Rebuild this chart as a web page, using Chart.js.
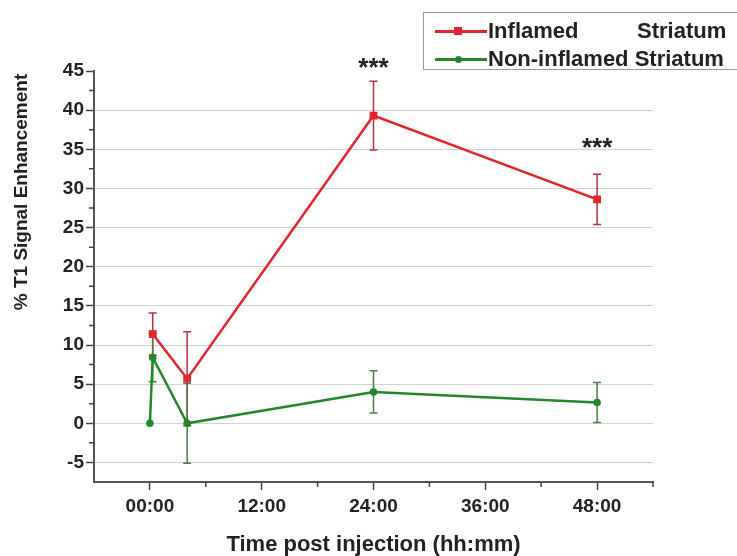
<!DOCTYPE html>
<html>
<head>
<meta charset="utf-8">
<title>T1 Signal Enhancement</title>
<script src="https://cdn.jsdelivr.net/npm/chart.js@4.4.1/dist/chart.umd.min.js"></script>
<style>
    html, body { margin: 0; padding: 0; background: #fff; overflow: hidden; }
    #wrap { position: relative; width: 737px; height: 556px; overflow: hidden; }
    #legend {
        position: absolute; left: 423px; top: 12px; width: 340px; height: 56px;
        border: 1px solid #9a9a9a; background: #fff;
        font: bold 22px "Liberation Sans", Arial, sans-serif; color: #222;
    }
    .row { position: absolute; left: 0; height: 26px; line-height: 26px; white-space: nowrap; }
    .sample { position: absolute; left: 11px; top: 12px; width: 52px; height: 2.5px; }
    .mark { position: absolute; left: 30px; }
    .label { position: absolute; left: 64px; }
</style>
</head>
<body>
<div id="wrap">
    <canvas id="chart" width="737" height="556"></canvas>
    <div id="legend">
        <div class="row" style="top:5px">
            <div class="sample" style="background:#e3242b"></div>
            <div class="mark" style="top:9px;width:8px;height:8px;background:#e3242b"></div>
            <span class="label">Inflamed</span>
            <span class="label" style="left:213px">Striatum</span>
        </div>
        <div class="row" style="top:33px">
            <div class="sample" style="background:#23862b"></div>
            <div class="mark" style="top:10px;left:31px;width:7px;height:7px;border-radius:50%;background:#23862b"></div>
            <span class="label">Non-inflamed Striatum</span>
        </div>
    </div>
</div>
<script>
// --- 1. data ---
const inflamedTimes = [0.3, 4, 24, 48];
const inflamedValues = [11.4, 5.7, 39.3, 28.6];
const inflamedErrors = [2.7, 6.0, 4.4, 3.2];

const nonInflamedTimes = [0, 0.3, 4, 24, 48];
const nonInflamedValues = [0, 8.4, 0, 4.0, 2.65];
const nonInflamedErrors = [0, 3.1, 5.1, 2.7, 2.55];

const xMajorTicks = [0, 12, 24, 36, 48];
const xMinorTicks = [6, 18, 30, 42, 54];
const yMajorTicks = [-5, 0, 5, 10, 15, 20, 25, 30, 35, 40, 45];
const yMinorTicks = [-2.5, 2.5, 7.5, 12.5, 17.5, 22.5, 27.5, 32.5, 37.5, 42.5];

const starTimes = [24, 48];
const starLevels = [46.3, 36.0];

const FONT = '"Liberation Sans", Arial, sans-serif';

// --- 2. plugins ---

/** error bars, drawn under the markers */
const errorBars = {
    id: 'errorBars',
    beforeDatasetsDraw(chart) {
        const { ctx, scales: { x, y } } = chart;
        chart.data.datasets.forEach(ds => {
            ctx.save();
            ctx.strokeStyle = ds.errorColor;
            ctx.lineWidth = 1.5;
            ds.data.forEach((p, i) => {
                const err = ds.errors[i];
                if (!err) return;
                const px = x.getPixelForValue(p.x);
                const top = y.getPixelForValue(p.y + err);
                const bot = y.getPixelForValue(p.y - err);
                ctx.beginPath();
                ctx.moveTo(px, top); ctx.lineTo(px, bot);
                ctx.moveTo(px - 4, top); ctx.lineTo(px + 4, top);
                ctx.moveTo(px - 4, bot); ctx.lineTo(px + 4, bot);
                ctx.stroke();
            });
            ctx.restore();
        });
    }
};

/** minor ticks, axis titles and significance stars */
const decorations = {
    id: 'decorations',
    afterDraw(chart) {
        const { ctx, scales: { x, y } } = chart;
        ctx.save();
        ctx.strokeStyle = '#444';
        ctx.lineWidth = 1.5;
        ctx.beginPath();
        xMinorTicks.forEach(v => {
            const px = x.getPixelForValue(v);
            ctx.moveTo(px, x.top); ctx.lineTo(px, x.top + 5);
        });
        yMinorTicks.forEach(v => {
            const py = y.getPixelForValue(v);
            ctx.moveTo(y.right - 5, py); ctx.lineTo(y.right, py);
        });
        ctx.stroke();

        ctx.fillStyle = '#222';
        ctx.textAlign = 'center';
        ctx.textBaseline = 'alphabetic';

        // x title
        ctx.font = 'bold 22px ' + FONT;
        ctx.fillText('Time post injection (hh:mm)', (x.left + x.right) / 2, 551);

        // y title
        ctx.save();
        ctx.translate(27, 192);
        ctx.rotate(-Math.PI / 2);
        ctx.font = 'bold 19px ' + FONT;
        ctx.fillText('% T1 Signal Enhancement', 0, 0);
        ctx.restore();

        // stars
        ctx.font = 'bold 26px ' + FONT;
        starTimes.forEach((t, i) => {
            ctx.fillText('***', x.getPixelForValue(t), y.getPixelForValue(starLevels[i]) + 15);
        });
        ctx.restore();
    }
};

// --- 3. chart ---
const ctx = document.getElementById('chart').getContext('2d');

new Chart(ctx, {
    type: 'line',
    data: {
        datasets: [
            {
                label: 'Inflamed Striatum',
                data: inflamedTimes.map((t, i) => ({ x: t, y: inflamedValues[i] })),
                errors: inflamedErrors,
                errorColor: '#bc3040',
                borderColor: '#e3242b',
                backgroundColor: '#e3242b',
                borderWidth: 2.5,
                pointStyle: 'rect',
                pointRadius: 5.5,
                pointBorderWidth: 0,
                tension: 0
            },
            {
                label: 'Non-inflamed Striatum',
                data: nonInflamedTimes.map((t, i) => ({ x: t, y: nonInflamedValues[i] })),
                errors: nonInflamedErrors,
                errorColor: '#4a7f4a',
                borderColor: '#23862b',
                backgroundColor: '#23862b',
                borderWidth: 2.5,
                pointStyle: 'circle',
                pointRadius: 3.8,
                pointBorderWidth: 0,
                tension: 0
            }
        ]
    },
    options: {
        responsive: false,
        devicePixelRatio: 1,
        animation: false,
        layout: { padding: { left: 0, top: 71, right: 84, bottom: 0 } },
        plugins: {
            legend: { display: false },
            tooltip: { enabled: false }
        },
        scales: {
            x: {
                type: 'linear',
                min: -6,
                max: 54,
                afterBuildTicks: scale => { scale.ticks = xMajorTicks.map(v => ({ value: v })); },
                afterFit: scale => { scale.height = 74; },
                ticks: {
                    color: '#222',
                    font: { family: FONT, size: 19, weight: 'bold' },
                    padding: 5,
                    maxRotation: 0,
                    callback: v => String(v).padStart(2, '0') + ':00'
                },
                grid: {
                    drawOnChartArea: false,
                    tickLength: 8,
                    tickColor: '#444',
                    tickWidth: 1.5
                },
                border: { color: '#555', width: 2 }
            },
            y: {
                min: -7.5,
                max: 45,
                afterBuildTicks: scale => { scale.ticks = yMajorTicks.map(v => ({ value: v })); },
                afterFit: scale => { scale.width = 94; },
                ticks: {
                    color: '#222',
                    font: { family: FONT, size: 19, weight: 'bold' },
                    padding: 2
                },
                grid: {
                    color: c => (c.tick && c.tick.value === 45 ? 'rgba(0,0,0,0)' : '#d2d2d2'),
                    lineWidth: 1,
                    tickLength: 8,
                    tickColor: '#444',
                    tickWidth: 1.5
                },
                border: { color: '#555', width: 2 }
            }
        }
    },
    plugins: [errorBars, decorations]
});
</script>
</body>
</html>
